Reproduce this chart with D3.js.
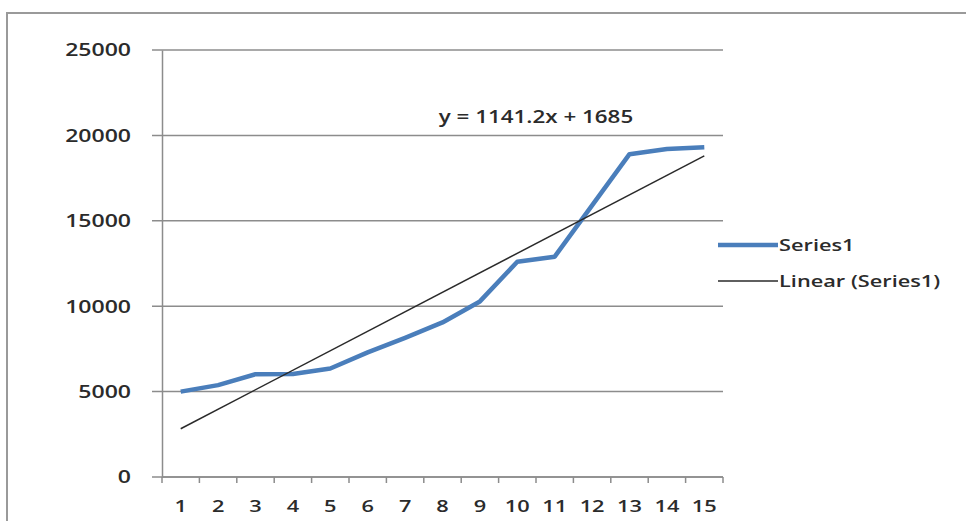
<!DOCTYPE html>
<html>
<head>
<meta charset="utf-8">
<script src="https://cdn.jsdelivr.net/npm/d3@7"></script>
<style>
  html, body { margin: 0; padding: 0; background: #fff; }
  svg { display: block; font-family: "Open Sans", "Noto Sans", sans-serif; }
</style>
</head>
<body>
<svg id="chart" width="966" height="521"></svg>
<script>
// Series data
const categories = [1, 2, 3, 4, 5, 6, 7, 8, 9, 10, 11, 12, 13, 14, 15];
const series1 = [5000, 5380, 6020, 6030, 6350, 7300, 8150, 9050, 10280, 12600, 12900, 15900, 18900, 19200, 19300];
const yTicks = [0, 5000, 10000, 15000, 20000, 25000];
// Linear trendline as stated in the equation label
const trendSlope = 1141.2;
const trendIntercept = 1685;
const legendLabels = ["Series1", "Linear (Series1)"];

const svg = d3.select("#chart");
const plot = { left: 162, right: 723, top: 50, bottom: 477 };
const textColor = "#2b2b2b";
const stretch = 1.28; // wide label face

// Places a horizontally widened label anchored at (x, y)
function label(parent, x, y, str, anchor, size, baselineShift) {
  return parent.append("text")
    .attr("transform", `translate(${x},${y}) scale(${stretch},1)`)
    .attr("text-anchor", anchor)
    .attr("dy", baselineShift || 0)
    .attr("fill", textColor)
    .attr("font-size", size)
    .attr("font-weight", 600)
    .text(str);
}

// Outer chart frame
svg.append("rect")
  .attr("x", 7).attr("y", 13)
  .attr("width", 1000).attr("height", 600)
  .attr("fill", "none")
  .attr("stroke", "#9a9a9a")
  .attr("stroke-width", 2);

const x = d3.scaleBand()
  .domain(categories)
  .range([plot.left, plot.right])
  .paddingInner(0).paddingOuter(0);

const y = d3.scaleLinear()
  .domain([0, 25000])
  .range([plot.bottom, plot.top]);

const cx = d => x(d) + x.bandwidth() / 2;

// Horizontal gridlines (with the short tick stub left of the axis)
svg.append("g")
  .selectAll("line")
  .data(yTicks)
  .join("line")
  .attr("x1", plot.left - 10)
  .attr("x2", plot.right)
  .attr("y1", d => y(d))
  .attr("y2", d => y(d))
  .attr("stroke", "#8c8c8c")
  .attr("stroke-width", 1.5);

// Y axis line and labels
const gy = svg.append("g")
  .attr("transform", `translate(${plot.left},0)`)
  .call(d3.axisLeft(y).tickValues(yTicks).tickSize(0).tickFormat(""));
gy.select(".domain").attr("stroke", "#8c8c8c").attr("stroke-width", 1.5);
const yLabels = svg.append("g");
yTicks.forEach(t => label(yLabels, 131, y(t), d3.format("d")(t), "end", 18, "0.35em"));

// X axis: ticks on the band boundaries, labels centred in the bands
const gx = svg.append("g").attr("transform", `translate(0,${plot.bottom})`);
gx.append("line")
  .attr("x1", plot.left).attr("x2", plot.right)
  .attr("stroke", "#8c8c8c").attr("stroke-width", 1.5);
const boundaries = categories.map(d => x(d)).concat([x(categories[categories.length - 1]) + x.bandwidth()]);
gx.selectAll("line.tick")
  .data(boundaries)
  .join("line")
  .attr("class", "tick")
  .attr("x1", d => d).attr("x2", d => d)
  .attr("y1", 0).attr("y2", 6)
  .attr("stroke", "#8c8c8c").attr("stroke-width", 1.5);
categories.forEach(c => label(gx, cx(c), 35, String(c), "middle", 17));

// Series1 line
svg.append("path")
  .datum(series1)
  .attr("fill", "none")
  .attr("stroke", "#4a7ebb")
  .attr("stroke-width", 4.5)
  .attr("stroke-linejoin", "round")
  .attr("d", d3.line()
    .x((d, i) => cx(categories[i]))
    .y(d => y(d)));

// Linear trendline
const first = categories[0], last = categories[categories.length - 1];
svg.append("line")
  .attr("x1", cx(first)).attr("y1", y(trendSlope * first + trendIntercept))
  .attr("x2", cx(last)).attr("y2", y(trendSlope * last + trendIntercept))
  .attr("stroke", "#2a2a2a")
  .attr("stroke-width", 1.5);

// Trendline equation
label(svg, 536, 123, `y = ${trendSlope}x + ${trendIntercept}`, "middle", 17.5);

// Legend
const legend = svg.append("g");
const legendRows = [
  { label: legendLabels[0], color: "#4a7ebb", width: 4.5, y: 245 },
  { label: legendLabels[1], color: "#2a2a2a", width: 1.5, y: 281 }
];
legendRows.forEach(r => {
  legend.append("line")
    .attr("x1", 718).attr("x2", 778)
    .attr("y1", r.y).attr("y2", r.y)
    .attr("stroke", r.color).attr("stroke-width", r.width);
  label(legend, 779, r.y, r.label, "start", 17, "0.35em");
});
</script>
</body>
</html>
